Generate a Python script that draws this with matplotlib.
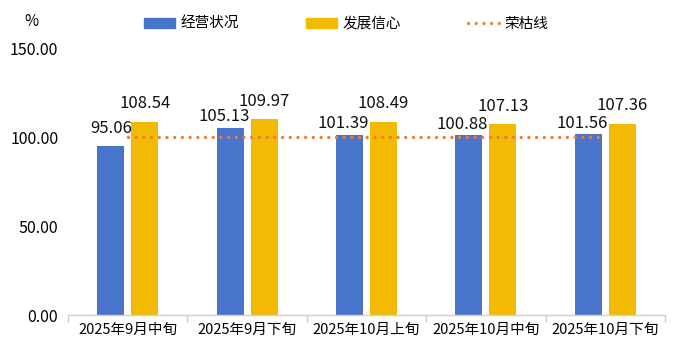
import numpy as np
import matplotlib
matplotlib.use("Agg")
import matplotlib.pyplot as plt
from matplotlib.lines import Line2D
from matplotlib.patches import Patch

plt.rcParams["font.family"] = ["Noto Sans CJK SC", "DejaVu Sans"]

categories = ["2025年9月中旬", "2025年9月下旬", "2025年10月上旬", "2025年10月中旬", "2025年10月下旬"]
operating = [95.06, 105.13, 101.39, 100.88, 101.56]
confidence = [108.54, 109.97, 108.49, 107.13, 107.36]
threshold = 100.0
yticks = [0, 50, 100, 150]

BLUE = "#4874CB"
YELLOW = "#F2BA02"
ORANGE = "#ED7D31"
DOTS = (0, (0.01, 2.3))

fig = plt.figure(figsize=(6.76, 3.52), dpi=100)
ax = fig.add_axes([0.1006, 0.105, 0.883, 0.7586])

x = np.arange(len(categories))
bw = 0.226
off = 0.142
ax.bar(x - off, operating, width=bw, color=BLUE)
ax.bar(x + off, confidence, width=bw, color=YELLOW)
ax.plot([x[0], x[-1]], [threshold, threshold], color=ORANGE, linestyle=DOTS,
        linewidth=2.4, dash_capstyle="round")

# value labels; blue ones nudge left/down when they would crowd the yellow label
for xi, v, c in zip(x, operating, confidence):
    crowded = (c - v) < 10
    dx = -4.5 if crowded else 0
    dy = 8 if crowded else 12.5
    ax.annotate(f"{v:.2f}", (xi - off, v), xytext=(dx, dy), textcoords="offset points",
                ha="center", va="center", fontsize=12, color="#111111")
    ax.annotate(f"{c:.2f}", (xi + off, c), xytext=(0, 13), textcoords="offset points",
                ha="center", va="center", fontsize=12, color="#111111")

ax.set_xlim(-0.5, len(categories) - 0.5)
ax.set_ylim(0, 150)
ax.set_yticks(yticks)
ax.set_yticklabels([f"{t:.2f}" for t in yticks], fontsize=11.5)
ax.set_xticks(x)
ax.set_xticklabels(categories, fontsize=10.5)
ax.tick_params(axis="y", length=0, pad=7)
ax.tick_params(axis="x", length=0, pad=6)
ax.set_xticks(np.arange(len(categories) + 1) - 0.5, minor=True)
ax.tick_params(axis="x", which="minor", length=5, color="#D0D0D0", width=1)

for s in ["top", "right", "left"]:
    ax.spines[s].set_visible(False)
ax.spines["bottom"].set_color("#D0D0D0")
ax.spines["bottom"].set_linewidth(1)

fig.text(0.047, 0.94, "%", fontsize=11, ha="center", va="center")

handles = [
    Patch(color=BLUE, label="经营状况"),
    Patch(color=YELLOW, label="发展信心"),
    Line2D([0], [0], color=ORANGE, linestyle=DOTS, linewidth=2.4,
           dash_capstyle="round", label="荣枯线"),
]
fig.legend(handles=handles, loc="center", bbox_to_anchor=(0.512, 0.932), ncol=3,
           frameon=False, fontsize=10.5, handlelength=2.1, handleheight=0.75,
           columnspacing=4.6, handletextpad=0.4)

fig.savefig("out.png", dpi=100)
